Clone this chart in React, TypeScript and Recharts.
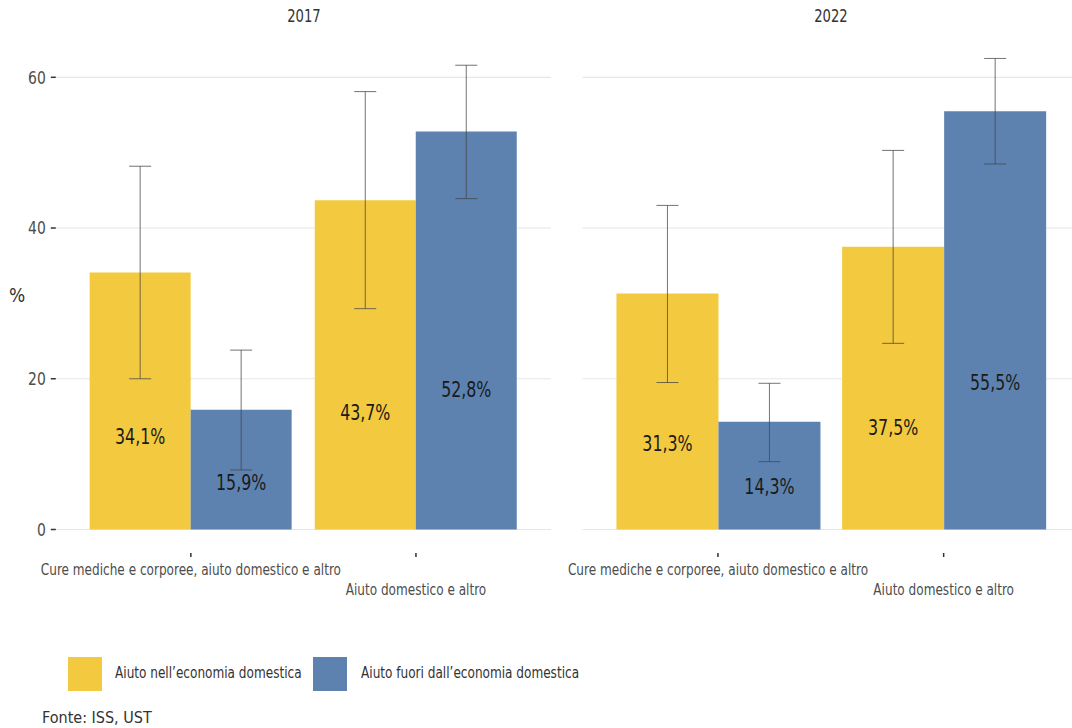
import React from "react"
import { BarChart, Bar, XAxis, YAxis, CartesianGrid, ErrorBar, LabelList } from "recharts"

const categories = ["Cure mediche e corporee, aiuto domestico e altro", "Aiuto domestico e altro"]
const years = ["2017", "2022"]
const seriesNames = ["Aiuto nell’economia domestica", "Aiuto fuori dall’economia domestica"]
const yTicks = [0, 20, 40, 60]

// 2017
const inside2017 = [34.1, 43.7]
const inside2017Low = [20.0, 29.3]
const inside2017High = [48.2, 58.1]
const outside2017 = [15.9, 52.8]
const outside2017Low = [7.9, 43.9]
const outside2017High = [23.8, 61.6]

// 2022
const inside2022 = [31.3, 37.5]
const inside2022Low = [19.5, 24.7]
const inside2022High = [43.0, 50.3]
const outside2022 = [14.3, 55.5]
const outside2022Low = [9.0, 48.5]
const outside2022High = [19.4, 62.5]

const YELLOW = "#f3c93f"
const BLUE = "#5d82b0"
const FONT = "'Liberation Sans Narrow', 'DejaVu Sans Condensed', 'Roboto Condensed', 'Liberation Sans', sans-serif"
const SQUEEZE = 0.86

const buildRows = (ins, insLo, insHi, out, outLo, outHi) =>
  categories.map((name, i) => ({
    name,
    inside: ins[i],
    outside: out[i],
    insideErr: [ins[i] - insLo[i], insHi[i] - ins[i]],
    outsideErr: [out[i] - outLo[i], outHi[i] - out[i]],
  }))

const data2017 = buildRows(inside2017, inside2017Low, inside2017High, outside2017, outside2017Low, outside2017High)
const data2022 = buildRows(inside2022, inside2022Low, inside2022High, outside2022, outside2022Low, outside2022High)

const fmt = (v) => v.toFixed(1).replace(".", ",") + "%"

// narrow text: no condensed font around, so squeeze horizontally
function CondText({ x, y, anchor = "middle", size, fill, sx = SQUEEZE, dy = 0, children }) {
  return (
    <text
      transform={`translate(${x},${y}) scale(${sx},1)`}
      dy={dy}
      textAnchor={anchor}
      fontFamily={FONT}
      fontSize={size}
      fill={fill}
    >
      {children}
    </text>
  )
}

function BarLabel(props) {
  const { x, y, width, height, value } = props
  return (
    <CondText x={x + width / 2} y={y + (height * 2) / 3} size={22} sx={0.8} fill="#1a1a1a">
      {fmt(value)}
    </CondText>
  )
}

function CategoryTick(props) {
  const { x, payload, index } = props
  return (
    <g>
      <line x1={x} x2={x} y1={553} y2={557} stroke="#333" strokeWidth={1.5} />
      <CondText x={x} y={index === 0 ? 575 : 595} size={16} sx={0.84} fill="#4d4d4d">
        {payload.value}
      </CondText>
    </g>
  )
}

function ValueTick(props) {
  const { x, y, payload } = props
  return (
    <CondText x={x} y={y} anchor="end" size={18} fill="#4d4d4d" dy="0.35em">
      {payload.value}
    </CondText>
  )
}

function Panel({ data, showY, left, width, marginLeft }) {
  return (
    <div style={{ position: "absolute", left, top: 0 }}>
      <BarChart
        width={width}
        height={600}
        data={data}
        margin={{ top: 39.6, right: 9, bottom: 20.5, left: marginLeft }}
        barCategoryGap={11.35}
        barGap={0}
      >
        <CartesianGrid vertical={false} horizontalValues={yTicks} stroke="#e6e6e6" strokeWidth={1.2} />
        <XAxis
          dataKey="name"
          height={50}
          padding={{ left: 22.5, right: 22.5 }}
          axisLine={false}
          tickLine={false}
          tick={<CategoryTick />}
          interval={0}
        />
        <YAxis
          hide={!showY}
          width={55.8}
          domain={[0, 65]}
          ticks={yTicks}
          axisLine={false}
          tickSize={5}
          tickMargin={5}
          tickLine={{ stroke: "#333", strokeWidth: 1.5 }}
          tick={<ValueTick />}
        />
        <Bar dataKey="inside" fill={YELLOW} isAnimationActive={false}>
          <LabelList dataKey="inside" content={<BarLabel />} />
          <ErrorBar dataKey="insideErr" width={11} stroke="#444" strokeOpacity={0.75} strokeWidth={1} direction="y" />
        </Bar>
        <Bar dataKey="outside" fill={BLUE} isAnimationActive={false}>
          <LabelList dataKey="outside" content={<BarLabel />} />
          <ErrorBar dataKey="outsideErr" width={11} stroke="#444" strokeOpacity={0.75} strokeWidth={1} direction="y" />
        </Bar>
      </BarChart>
    </div>
  )
}

export default function App() {
  const text = {
    position: "absolute",
    fontFamily: FONT,
    color: "#333",
    whiteSpace: "nowrap",
    transform: `scaleX(${SQUEEZE})`,
    transformOrigin: "left center",
  } as React.CSSProperties
  const title = { ...text, width: 200, top: 6, textAlign: "center", fontSize: 17, transformOrigin: "center center" } as React.CSSProperties
  return (
    <div
      style={{
        position: "absolute",
        left: 0,
        top: 0,
        width: 1072,
        height: 728,
        overflow: "hidden",
        background: "#fff",
      }}
    >
      <Panel data={data2017} showY left={0} width={560} marginLeft={0} />
      <Panel data={data2022} showY={false} left={560} width={528} marginLeft={22.6} />

      <div style={{ ...title, left: 203.6 }}>{years[0]}</div>
      <div style={{ ...title, left: 730.8 }}>{years[1]}</div>
      <div style={{ ...text, left: 9, top: 284, fontSize: 19, transform: "none" }}>%</div>

      <div style={{ position: "absolute", left: 68, top: 657, width: 34, height: 34, background: YELLOW }} />
      <div style={{ ...text, left: 115, top: 663, fontSize: 16, transform: "scaleX(0.84)" }}>{seriesNames[0]}</div>
      <div style={{ position: "absolute", left: 313, top: 657, width: 34, height: 34, background: BLUE }} />
      <div style={{ ...text, left: 361, top: 663, fontSize: 16, transform: "scaleX(0.84)" }}>{seriesNames[1]}</div>

      <div style={{ ...text, left: 42, top: 708, fontSize: 16, transform: "none" }}>Fonte: ISS, UST</div>
    </div>
  )
}
